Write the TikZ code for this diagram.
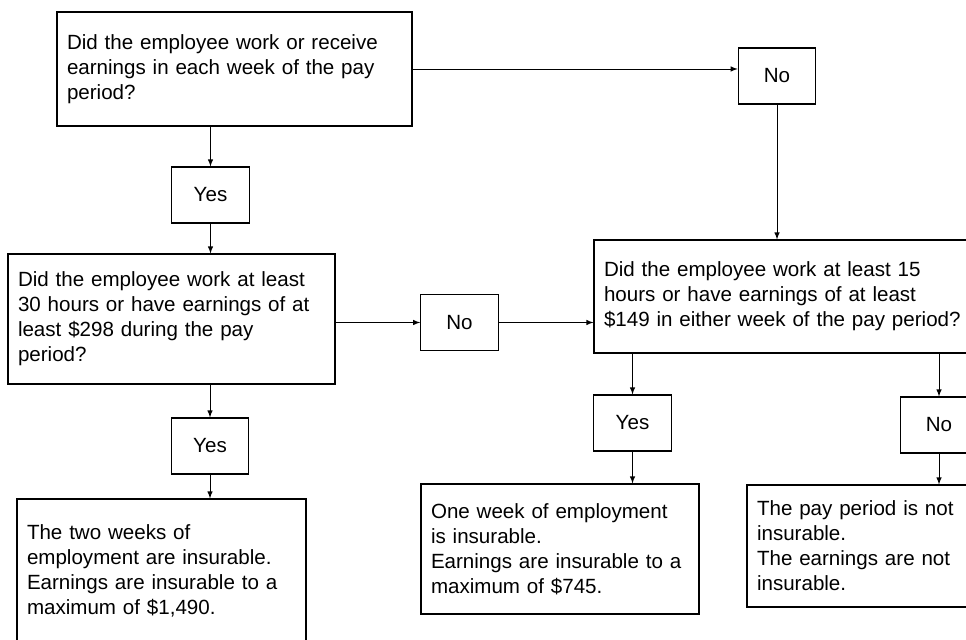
\documentclass[tikz,border=0pt]{standalone}
\usepackage{fontspec}
\setmainfont{Liberation Sans}
\usetikzlibrary{calc}

\begin{document}
\begin{tikzpicture}[
    every node/.style={
        rectangle,
        draw,
        line width=0.6pt,
        inner xsep=0.2cm,
        inner ysep=0pt,
        font=\fontsize{11.7}{14.2}\selectfont
    },
    question/.style={align=left},
    answer/.style={align=center, minimum width=1.55cm, minimum height=1.12cm},
    result/.style={align=left},
    flow/.style={draw, line width=0.4pt, -latex}
]
\useasboundingbox (0,0) rectangle (19.32,-12.8);
\clip (0,0) rectangle (19.32,-12.8);

% Questions
\node[question, text width=6.70cm, minimum height=2.28cm] (q1) at (4.69,-1.38) {
    Did the employee work or receive\\
    earnings in each week of the pay\\
    period?
};
\node[question, text width=6.14cm, minimum height=2.60cm] (q2) at (3.43,-6.38) {
    Did the employee work at least\\
    30 hours or have earnings of at\\
    least \$298 during the pay\\
    period?
};
\node[question, text width=7.80cm, minimum height=2.26cm] (q3) at (15.98,-5.93) {
    Did the employee work at least 15\\
    hours or have earnings of at least\\
    \$149 in either week of the pay period?
};

% Answers
\node[answer] (no1) at (15.54,-1.52) {No};
\node[answer] (yes1) at (4.21,-3.90) {Yes};
\node[answer] (no2) at (9.19,-6.45) {No};
\node[answer] (yes2) at (4.20,-8.92) {Yes};
\node[answer] (yes3) at (12.65,-8.46) {Yes};
\node[answer] (no3) at (18.78,-8.50) {No};

% Results
\node[result, text width=5.38cm, minimum height=2.88cm] (r1) at (3.23,-11.42) {
    The two weeks of\\
    employment are insurable.\\
    Earnings are insurable to a\\
    maximum of \$1,490.
};
\node[result, text width=5.16cm, minimum height=2.60cm] (r2) at (11.20,-10.98) {
    One week of employment\\
    is insurable.\\
    Earnings are insurable to a\\
    maximum of \$745.
};
\node[result, text width=4.40cm, minimum height=2.44cm] (r3) at (17.34,-10.92) {
    The pay period is not\\
    insurable.\\
    The earnings are not\\
    insurable.
};

% Connectors
\path[flow] (q1.east) -- (q1.east -| no1.west);
\path[flow] (yes1.north |- q1.south) -- (yes1.north);
\path[flow] (yes1.south) -- (yes1.south |- q2.north);
\path[flow] (no1.south) -- (no1.south |- q3.north);
\path[flow] (no2.west -| q2.east) -- (no2.west);
\path[flow] (no2.east) -- (no2.east -| q3.west);
\path[flow] (yes2.north |- q2.south) -- (yes2.north);
\path[flow] (yes2.south) -- (yes2.south |- r1.north);
\path[flow] (yes3.north |- q3.south) -- (yes3.north);
\path[flow] (yes3.south) -- (yes3.south |- r2.north);
\path[flow] (no3.north |- q3.south) -- (no3.north);
\path[flow] (no3.south) -- (no3.south |- r3.north);

\end{tikzpicture}
\end{document}
